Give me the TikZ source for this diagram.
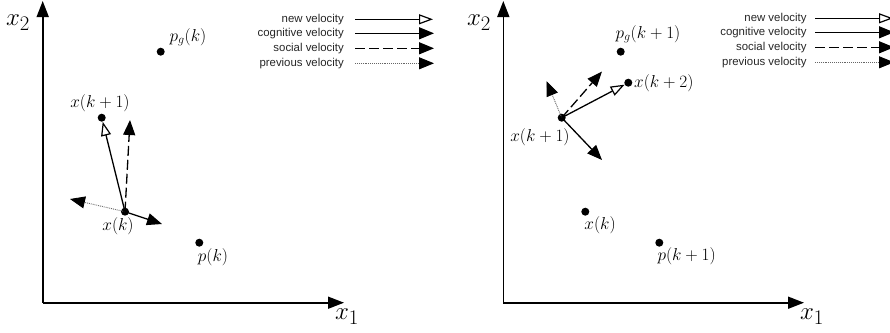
\documentclass[tikz,border=0pt]{standalone}
\usepackage{fontspec}
\newfontfamily\legendfont{Liberation Sans}
\usetikzlibrary{arrows.meta}
\begin{document}
\begin{tikzpicture}[x=1pt,y=-1pt,
  axis/.style={line width=1.6pt,-{Triangle[length=16pt,width=12pt]}},
  dot/.style={circle,fill=black,inner sep=0pt,minimum size=8pt},
  lbl/.style={font=\fontsize{18.6}{21}\selectfont,inner sep=1pt},
  axlbl/.style={font=\fontsize{31}{33}\selectfont,inner sep=0pt},
  leg/.style={font=\legendfont\fontsize{11.4}{13}\selectfont,text=black!85,anchor=east,inner sep=0pt},
  newv/.style={line width=1.3pt,-{Triangle[open,length=14pt,width=10pt,line width=1.2pt]}},
  cogv/.style={line width=1.3pt,-{Triangle[length=15pt,width=12pt]}},
  socv/.style={cogv,dash pattern=on 10pt off 4pt},
  prev/.style={line width=0.9pt,densely dotted,black!60,-{Triangle[length=15pt,width=12pt,color=black]}}
]
\useasboundingbox (0,0) rectangle (890,332);
% ---------- left panel ----------
\coordinate (O1) at (42.7,302.7);
\coordinate (Y1) at (42.7,1);
\coordinate (X1) at (344,302.7);
\draw[axis] (O1) -- (Y1);
\draw[axis] (O1) -- (X1);
\node[axlbl] (x2L) at (18,23) {$x_2$};
\node[axlbl] (x1L) at (347,317) {$x_1$};

\node[dot] (pg) at (160.7,51.7) {};
\node[lbl] (pgl) at (188,37) {$p_g(k)$};
\node[dot] (xk1) at (101.7,117.7) {};
\node[lbl] (xk1l) at (100,103) {$x(k+1)$};
\node[dot] (xk) at (125,211.7) {};
\node[lbl] (xkl) at (118,226) {$x(k)$};
\node[dot] (pk) at (199.3,242.7) {};
\node[lbl] (pkl) at (213,257) {$p(k)$};

\coordinate (soc1) at (130,120);
\coordinate (prv1) at (70,199);
\coordinate (cog1) at (162,224);
\draw[prev] (xk.center) -- (prv1);
\draw[cogv] (xk.center) -- (cog1);
\draw[socv] (xk.center) -- (soc1);
\draw[newv] (xk.center) -- (xk1);

% legend left
\node[leg] (l1a) at (344,19.3) {new velocity};
\node[leg] (l1b) at (344,33.3) {cognitive velocity};
\node[leg] (l1c) at (344,48.3) {social velocity};
\node[leg] (l1d) at (344,63.3) {previous velocity};
\coordinate (a1s) at (355,19.3); \coordinate (a1e) at (433,19.3);
\coordinate (b1s) at (355,33.3); \coordinate (b1e) at (434,33.3);
\coordinate (c1s) at (355,48.3); \coordinate (c1e) at (434,48.3);
\coordinate (d1s) at (355,63.3); \coordinate (d1e) at (434,63.3);
\draw[newv] (a1s) -- (a1e);
\draw[cogv] (b1s) -- (b1e);
\draw[socv] (c1s) -- (c1e);
\draw[prev] (d1s) -- (d1e);

% ---------- right panel ----------
\coordinate (O2) at (503.3,302.7);
\coordinate (Y2) at (503.3,1);
\coordinate (X2) at (804,302.7);
\draw[axis] (O2) -- (Y2);
\draw[axis] (O2) -- (X2);
\node[axlbl] (x2R) at (479,23) {$x_2$};
\node[axlbl] (x1R) at (812,317) {$x_1$};

\node[dot] (pg2) at (620.7,51.7) {};
\node[lbl] (pg2l) at (648,34) {$p_g(k+1)$};
\node[dot] (xk2) at (628.3,82.7) {};
\node[lbl,anchor=west] (xk2l) at (633,83) {$x(k+2)$};
\node[dot] (xk1b) at (561.7,117.7) {};
\node[lbl] (xk1bl) at (540,137) {$x(k+1)$};
\node[dot] (xkb) at (585.3,211.7) {};
\node[lbl] (xkbl) at (600,225) {$x(k)$};
\node[dot] (pk2) at (659.3,242.7) {};
\node[lbl] (pk2l) at (686.7,256) {$p(k+1)$};

\coordinate (soc2) at (602,71.5);
\coordinate (prv2) at (546.5,81);
\coordinate (cog2) at (602,160);
\draw[prev] (xk1b.center) -- (prv2);
\draw[cogv] (xk1b.center) -- (cog2);
\draw[socv] (xk1b.center) -- (soc2);
\draw[newv] (xk1b.center) -- (xk2);

% legend right
\node[leg] (l2a) at (806.7,18.3) {new velocity};
\node[leg] (l2b) at (806.7,32.3) {cognitive velocity};
\node[leg] (l2c) at (806.7,47.3) {social velocity};
\node[leg] (l2d) at (806.7,62.3) {previous velocity};
\coordinate (a2s) at (815,18.3); \coordinate (a2e) at (893,18.3);
\coordinate (b2s) at (815,32.3); \coordinate (b2e) at (894,32.3);
\coordinate (c2s) at (815,47.3); \coordinate (c2e) at (894,47.3);
\coordinate (d2s) at (815,62.3); \coordinate (d2e) at (894,62.3);
\draw[newv] (a2s) -- (a2e);
\draw[cogv] (b2s) -- (b2e);
\draw[socv] (c2s) -- (c2e);
\draw[prev] (d2s) -- (d2e);
\end{tikzpicture}
\end{document}
